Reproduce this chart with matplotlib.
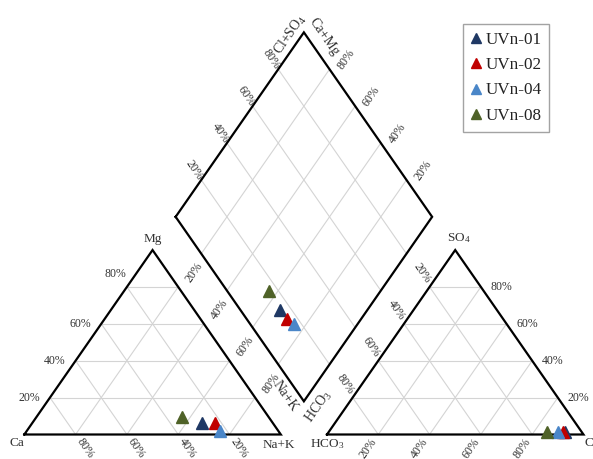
import numpy as np
import matplotlib
matplotlib.use("Agg")
import matplotlib.pyplot as plt

plt.rcParams['font.family'] = 'Liberation Serif'
plt.rcParams['mathtext.fontset'] = 'custom'
plt.rcParams['mathtext.rm'] = 'Liberation Serif'
plt.rcParams['mathtext.default'] = 'regular'

samples = ['UVn-01', 'UVn-02', 'UVn-04', 'UVn-08']
colors = ['#1f3864', '#c00000', '#4a86c8', '#4f6228']

# cations (% meq/L)
mg = [6.4, 6.4, 1.9, 9.3]
na_k = [66.0, 71.1, 75.3, 56.7]
# anions (% meq/L)
so4 = [1.5, 1.5, 1.5, 1.5]
cl = [92.0, 91.4, 89.4, 85.2]
# anion share plotted in the diamond
dia_anion = [15.6, 15.8, 17.2, 16.3]

ticks = [20, 40, 60, 80]

H = np.sqrt(3) / 2
G = 0.18                      # gap between the two triangles
SX, SY = 256.5, 213.0         # px per data unit
TXT = '#333333'


def cat_xy(m, n):
    return n / 100 + m / 200, m / 100 * H


def an_xy(s, c):
    return 1 + G + c / 100 + s / 200, s / 100 * H


def dia_xy(n, c):
    lx, ly = 0.5 + G / 2, H + G * H
    return lx + 0.5 * n / 100 + 0.5 * c / 100, ly - H * n / 100 + H * c / 100


def ang(dx, dy):
    return np.degrees(np.arctan2(dy * SY, dx * SX))


def unit_px(dx, dy):
    v = np.array([dx * SX, dy * SY])
    return v / np.hypot(*v)


fig = plt.figure(figsize=(5.93, 4.59), dpi=100)
ax = fig.add_axes([0, 0, 1, 1])
ax.set_xlim(-24.3 / SX, (593 - 24.3) / SX)
ax.set_ylim(-24.5 / SY, 434.5 / SY)
ax.axis('off')


def lab(x, y, s, dx=0, dy=0, rot=0, ha='center', va='center', size=8.5):
    # dx, dy are pixel offsets (dy upward)
    ax.annotate(s, (x, y), xytext=(dx * 0.72, dy * 0.72), textcoords='offset points',
                rotation=rot, ha=ha, va=va, fontsize=size, color=TXT,
                rotation_mode='anchor', annotation_clip=False)


def seg(p, q, **kw):
    ax.plot([p[0], q[0]], [p[1], q[1]], **kw)


grid = dict(color='#d4d4d4', lw=0.8, zorder=1)
frame = dict(color='black', lw=1.6, zorder=3, solid_joinstyle='miter')

# grid lines
for v in ticks:
    w = 100 - v
    seg(cat_xy(v, 0), cat_xy(v, w), **grid)
    seg(cat_xy(0, v), cat_xy(w, v), **grid)
    seg(cat_xy(0, w), cat_xy(w, 0), **grid)
    seg(an_xy(v, 0), an_xy(v, w), **grid)
    seg(an_xy(0, v), an_xy(w, v), **grid)
    seg(an_xy(0, w), an_xy(w, 0), **grid)
    seg(dia_xy(v, 0), dia_xy(v, 100), **grid)
    seg(dia_xy(0, v), dia_xy(100, v), **grid)

# outlines
tri = [cat_xy(0, 0), cat_xy(0, 100), cat_xy(100, 0), cat_xy(0, 0)]
ax.plot(*zip(*tri), **frame)
tri = [an_xy(0, 0), an_xy(0, 100), an_xy(100, 0), an_xy(0, 0)]
ax.plot(*zip(*tri), **frame)
dia = [dia_xy(0, 0), dia_xy(100, 0), dia_xy(100, 100), dia_xy(0, 100), dia_xy(0, 0)]
ax.plot(*zip(*dia), **frame)

# tick labels
up = ang(0.5, H)
down = ang(0.5, -H)
for v in ticks:
    t = f'{v}%'
    x, y = cat_xy(v, 0)
    # the top Mg label sits a little higher, next to the apex
    lift = 13 if v == 80 else 0
    lab(x, y, t, dx=-10 + lift * SX / (2 * SY * H), dy=lift, ha='right')
    x, y = cat_xy(0, 100 - v)
    u = unit_px(0.5, -H) * 17
    lab(x, y, t, dx=u[0], dy=u[1], rot=down)
    p = np.array(cat_xy(100 - v, v))
    q = np.array(dia_xy(v, 0))
    x, y = p + 0.55 * (q - p)
    lab(x, y, t, dx=3, dy=-4, rot=up)
    x, y = an_xy(v, 100 - v)
    lab(x, y, t, dx=10, ha='left')
    x, y = an_xy(0, v)
    u = unit_px(-0.5, -H) * 17
    lab(x, y, t, dx=u[0], dy=u[1], rot=up)
    p = np.array(an_xy(100 - v, 0))
    q = np.array(dia_xy(100, 100 - v))
    x, y = p + 0.4 * (q - p)
    lab(x, y, t, dx=2, rot=down)
    x, y = dia_xy(0, v)
    u = unit_px(-0.5, H) * 12
    lab(x, y, t, dx=u[0], dy=u[1], rot=down)
    x, y = dia_xy(100 - v, 100)
    lab(x, y, t, dx=16.5, dy=9.5, rot=up)

# axis names
lab(*cat_xy(0, 0), 'Ca', dx=-7, dy=-9, size=9.5)
lab(*cat_xy(100, 0), 'Mg', dy=11, size=9.5)
lab(*cat_xy(0, 100), 'Na+K', dx=-2, dy=-10, size=9.5)
lab(*an_xy(0, 0), 'HCO$_3$', dy=-10, size=9.5)
lab(*an_xy(100, 0), 'SO$_4$', dx=4, dy=12, size=9.5)
lab(*an_xy(0, 100), 'Cl', dx=1, dy=-9, ha='left', size=9.5)
lab(*dia_xy(0, 100), 'Cl+SO$_4$', dx=-13, dy=-2, rot=up, size=10)
lab(*dia_xy(0, 100), 'Ca+Mg', dx=20, dy=-4, rot=down, size=10)
lab(*dia_xy(100, 0), 'Na+K', dx=-19, dy=5, rot=down, size=10)
lab(*dia_xy(100, 0), 'HCO$_3$', dx=15, dy=-5, rot=up, size=10)

# samples
for i, name in enumerate(samples):
    pts = [cat_xy(mg[i], na_k[i]), an_xy(so4[i], cl[i]), dia_xy(na_k[i], dia_anion[i])]
    xs, ys = zip(*pts)
    ax.plot(xs, ys, ls='none', marker='^', ms=8, color=colors[i], mec=colors[i],
            zorder=5, label=name)

leg = ax.legend(loc='upper right', bbox_to_anchor=(549.3 / 593, 1 - 24 / 459),
                bbox_transform=fig.transFigure, borderaxespad=0, fancybox=False,
                frameon=True, fontsize=12.3, handlelength=0.6, handletextpad=0.25,
                labelspacing=0.55, borderpad=0.45, markerscale=0.85)
leg.get_frame().set_edgecolor('#8c8c8c')
leg.get_frame().set_linewidth(1.0)
for t in leg.get_texts():
    t.set_color('#222222')

fig.savefig('out.png', dpi=100)
